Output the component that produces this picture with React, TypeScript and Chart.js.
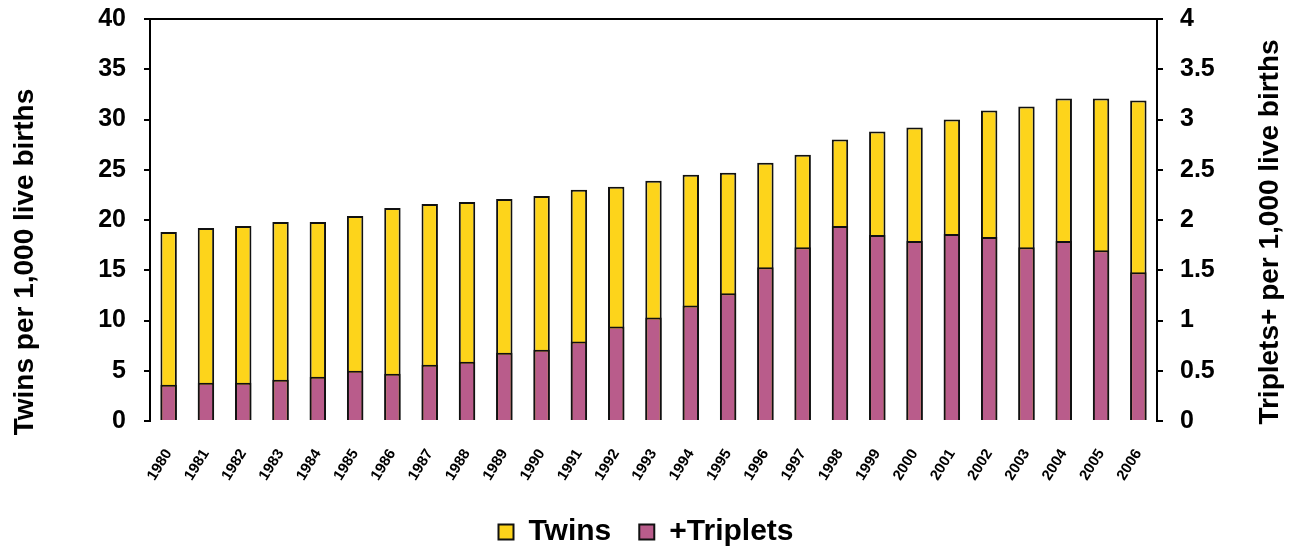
import React, { useEffect, useRef } from "react";
import { Chart, registerables } from "chart.js";

Chart.register(...registerables);

const years = [
  "1980", "1981", "1982", "1983", "1984", "1985", "1986", "1987", "1988",
  "1989", "1990", "1991", "1992", "1993", "1994", "1995", "1996", "1997",
  "1998", "1999", "2000", "2001", "2002", "2003", "2004", "2005", "2006",
];

const twins = [
  18.8, 19.2, 19.4, 19.8, 19.8, 20.4, 21.2, 21.6, 21.8,
  22.1, 22.4, 23.0, 23.3, 23.9, 24.5, 24.7, 25.7, 26.5,
  28.0, 28.8, 29.2, 30.0, 30.9, 31.3, 32.1, 32.1, 31.9,
];

const triplets = [
  0.36, 0.38, 0.38, 0.41, 0.44, 0.50, 0.47, 0.56, 0.59,
  0.68, 0.71, 0.79, 0.94, 1.03, 1.15, 1.27, 1.53, 1.73,
  1.94, 1.85, 1.79, 1.86, 1.83, 1.73, 1.79, 1.70, 1.48,
];

const leftTicks = [0, 5, 10, 15, 20, 25, 30, 35, 40];
const rightTicks = [0, 0.5, 1, 1.5, 2, 2.5, 3, 3.5, 4];

const leftTitle = "Twins per 1,000 live births";
const rightTitle = "Triplets+ per 1,000 live births";

const FONT = "Arial, 'Liberation Sans', sans-serif";

const axisTitlesPlugin = {
  id: "axisTitles",
  afterDraw(chart: any) {
    const { ctx, chartArea } = chart;
    const mid = (chartArea.top + chartArea.bottom) / 2;
    const draw = (text: string, x: number, y: number) => {
      ctx.save();
      ctx.translate(x, y);
      ctx.rotate(-Math.PI / 2);
      ctx.fillStyle = "#000";
      ctx.font = `bold 28px ${FONT}`;
      ctx.textAlign = "center";
      ctx.textBaseline = "middle";
      ctx.fillText(text, 0, 0);
      ctx.restore();
    };
    draw(leftTitle, 25, mid + 42);
    draw(rightTitle, 1270, mid + 12);
  },
};

export default function App() {
  const ref = useRef<HTMLCanvasElement | null>(null);

  useEffect(() => {
    if (!ref.current) return;
    const chart = new Chart(ref.current, {
      type: "bar",
      data: {
        labels: years,
        datasets: [
          {
            label: "Twins",
            data: twins,
            yAxisID: "y",
            backgroundColor: "#FDD41B",
            borderColor: "#111111",
            borderWidth: 2,
            grouped: false,
            order: 1,
            barPercentage: 0.44,
            categoryPercentage: 1,
          } as any,
          {
            label: "+Triplets",
            data: triplets,
            yAxisID: "y1",
            backgroundColor: "#B95C8B",
            borderColor: "#111111",
            borderWidth: 2,
            grouped: false,
            order: 0,
            barPercentage: 0.44,
            categoryPercentage: 1,
          } as any,
        ],
      },
      options: {
        animation: false,
        responsive: true,
        maintainAspectRatio: false,
        layout: { padding: { top: 19, bottom: -10, left: 0, right: 0 } },
        plugins: {
          tooltip: { enabled: false },
          legend: {
            position: "bottom",
            labels: {
              boxWidth: 15,
              boxHeight: 15,
              padding: 28,
              color: "#000",
              font: { family: FONT, size: 30, weight: "bold" },
              sort: (a: any, b: any) => a.datasetIndex - b.datasetIndex,
            },
          },
        },
        scales: {
          x: {
            position: "bottom",
            grid: { display: false },
            border: { display: false },
            ticks: {
              color: "#000",
              font: { family: FONT, size: 15, weight: "bold" },
              minRotation: 58,
              maxRotation: 58,
              autoSkip: false,
              padding: 17,
            },
            afterFit: (s: any) => {
              s.height = 68;
            },
          },
          xTop: {
            position: "top",
            labels: years,
            grid: { display: false },
            ticks: { display: false },
            border: { display: true, color: "#000", width: 2 },
            afterFit: (s: any) => {
              s.height = 0;
            },
          } as any,
          y: {
            position: "left",
            min: 0,
            max: 40,
            afterBuildTicks: (s: any) => {
              s.ticks = leftTicks.map((v) => ({ value: v }));
            },
            grid: {
              display: true,
              drawOnChartArea: false,
              drawTicks: true,
              tickLength: 6,
              color: "#000",
              lineWidth: 2,
            },
            border: { display: true, color: "#000", width: 2 },
            ticks: {
              color: "#000",
              padding: 18,
              font: { family: FONT, size: 25, weight: "bold" },
            },
            afterFit: (s: any) => {
              s.width = 150;
              s.paddingTop = 0;
              s.paddingBottom = 0;
            },
          },
          y1: {
            position: "right",
            min: 0,
            max: 4,
            afterBuildTicks: (s: any) => {
              s.ticks = rightTicks.map((v) => ({ value: v }));
            },
            grid: {
              display: true,
              drawOnChartArea: false,
              drawTicks: true,
              tickLength: 6,
              color: "#000",
              lineWidth: 2,
            },
            border: { display: true, color: "#000", width: 2 },
            ticks: {
              color: "#000",
              padding: 17,
              font: { family: FONT, size: 25, weight: "bold" },
              callback: (v: any) => String(Number(v)),
            },
            afterFit: (s: any) => {
              s.width = 135;
              s.paddingTop = 0;
              s.paddingBottom = 0;
            },
          },
        },
      } as any,
      plugins: [axisTitlesPlugin],
    });
    return () => chart.destroy();
  }, []);

  return (
    <div
      style={{
        position: "fixed",
        left: 0,
        top: 0,
        width: 1292,
        height: 547,
        background: "#fff",
      }}
    >
      <canvas ref={ref} />
    </div>
  );
}
